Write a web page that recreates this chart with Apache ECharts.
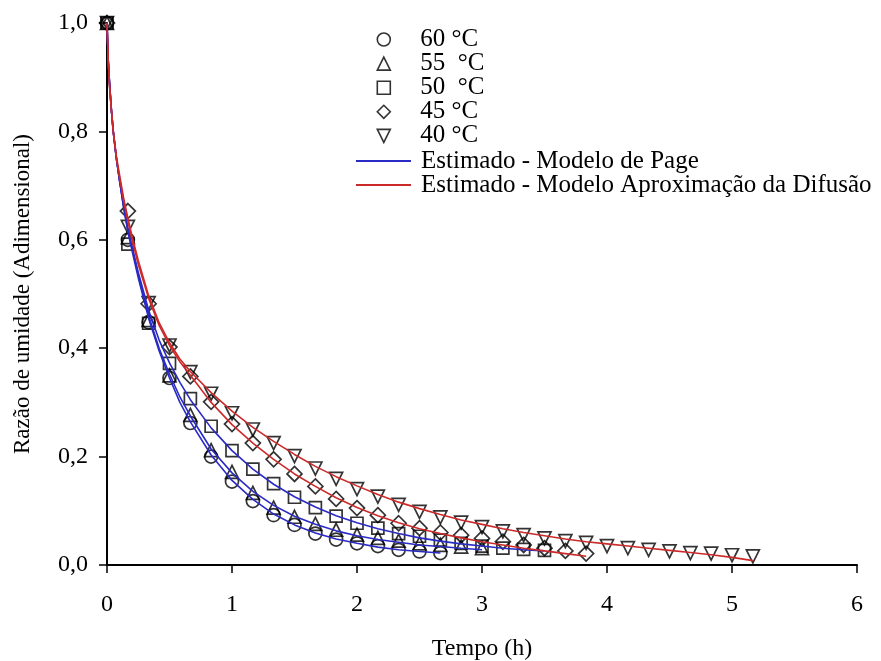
<!DOCTYPE html>
<html>
<head>
<meta charset="utf-8">
<script src="https://cdn.jsdelivr.net/npm/echarts@6/dist/echarts.min.js"></script>
<style>html,body{margin:0;padding:0;background:#fff}#c{width:881px;height:661px}</style>
</head>
<body>
<div id="c"></div>
<script>
// Observed times (h)
var tObs = [0, 0.167, 0.333, 0.5, 0.667, 0.833, 1.0, 1.167, 1.333, 1.5, 1.667, 1.833, 2.0, 2.167, 2.333, 2.5, 2.667, 2.833, 3.0, 3.167, 3.333, 3.5, 3.667, 3.833, 4.0, 4.167, 4.333, 4.5, 4.667, 4.833, 5.0, 5.167];
// Observed moisture ratio
var obs60 = [1.0, 0.600, 0.448, 0.345, 0.262, 0.200, 0.154, 0.118, 0.092, 0.074, 0.058, 0.047, 0.040, 0.035, 0.028, 0.025, 0.022];
var obs55 = [1.0, 0.605, 0.452, 0.350, 0.277, 0.212, 0.172, 0.133, 0.106, 0.089, 0.076, 0.065, 0.056, 0.050, 0.045, 0.040, 0.037, 0.034, 0.031];
var obs50 = [1.0, 0.592, 0.446, 0.372, 0.307, 0.256, 0.211, 0.177, 0.150, 0.125, 0.106, 0.090, 0.077, 0.068, 0.058, 0.053, 0.046, 0.040, 0.035, 0.031, 0.029, 0.027];
var obs45 = [1.0, 0.653, 0.482, 0.402, 0.348, 0.301, 0.260, 0.225, 0.195, 0.168, 0.145, 0.122, 0.105, 0.092, 0.077, 0.068, 0.060, 0.055, 0.049, 0.043, 0.037, 0.031, 0.026, 0.021];
var obs40 = [1.0, 0.624, 0.483, 0.405, 0.356, 0.316, 0.280, 0.250, 0.225, 0.201, 0.178, 0.159, 0.140, 0.126, 0.111, 0.098, 0.088, 0.078, 0.070, 0.062, 0.055, 0.049, 0.044, 0.041, 0.035, 0.031, 0.028, 0.025, 0.022, 0.021, 0.018, 0.016];

// Fitted curves, values (dense near t = 0, then every 10 min)
var tFitEarly = [0, 0.01, 0.02, 0.035, 0.05, 0.075, 0.1, 0.133, 0.167, 0.2, 0.25, 0.333, 0.417, 0.5, 0.583, 0.667];
var tFitLate  = [0.833, 1.0, 1.167, 1.333, 1.5, 1.667, 1.833, 2.0, 2.167, 2.333, 2.5, 2.667, 2.833, 3.0, 3.167, 3.333, 3.5, 3.667, 3.833, 4.0, 4.167, 4.333, 4.5, 4.667, 4.833, 5.0, 5.167];
var fitPage60 = [1, 0.93, 0.89, 0.84, 0.80, 0.75, 0.71, 0.66, 0.615, 0.58, 0.53, 0.455, 0.395, 0.345, 0.30, 0.264,
                 0.203, 0.156, 0.121, 0.094, 0.074, 0.059, 0.048, 0.040, 0.033, 0.028, 0.025, 0.022];
var fitPage55 = [1, 0.93, 0.89, 0.84, 0.80, 0.75, 0.71, 0.66, 0.618, 0.585, 0.535, 0.46, 0.40, 0.352, 0.31, 0.275,
                 0.214, 0.170, 0.136, 0.110, 0.090, 0.075, 0.063, 0.054, 0.047, 0.042, 0.037, 0.034, 0.031, 0.028];
var fitPage50 = [1, 0.93, 0.89, 0.84, 0.80, 0.75, 0.71, 0.665, 0.622, 0.588, 0.54, 0.47, 0.415, 0.373, 0.337, 0.305,
                 0.253, 0.211, 0.177, 0.149, 0.126, 0.107, 0.091, 0.078, 0.067, 0.058, 0.050, 0.044, 0.039, 0.035, 0.031, 0.028, 0.026];
var fitDif45  = [1, 0.93, 0.885, 0.84, 0.80, 0.75, 0.715, 0.672, 0.635, 0.60, 0.555, 0.492, 0.442, 0.405, 0.375, 0.35,
                 0.30, 0.259, 0.225, 0.195, 0.168, 0.145, 0.124, 0.106, 0.091, 0.078, 0.067, 0.058, 0.050, 0.043, 0.037, 0.031, 0.026, 0.021, 0.016];
var fitDif40  = [1, 0.93, 0.885, 0.84, 0.80, 0.755, 0.72, 0.677, 0.64, 0.607, 0.562, 0.497, 0.447, 0.41, 0.38, 0.357,
                 0.318, 0.284, 0.254, 0.228, 0.204, 0.182, 0.163, 0.146, 0.130, 0.116, 0.104, 0.093, 0.083, 0.075, 0.067, 0.060, 0.054, 0.048, 0.043, 0.039, 0.035, 0.031, 0.027, 0.023, 0.019, 0.014, 0.008];

var xTicks = [0, 1, 2, 3, 4, 5, 6];
var yTicks = [0, 0.2, 0.4, 0.6, 0.8, 1.0];

var names = ['60 °C', '55  °C', '50  °C', '45 °C', '40 °C', 'Estimado - Modelo de Page', 'Estimado - Modelo Aproximação da Difusão'];
var markerIcons = ['circle', 'triangle', 'rect', 'diamond', 'path://M0,0L10,0L5,10Z'];

var tFit = tFitEarly.concat(tFitLate);
function pairs(t, v) { var out = []; for (var i = 0; i < v.length; i++) out.push([t[i], v[i]]); return out; }

var FONT = '"Liberation Serif", "Times New Roman", serif';
var BLUE = '#2a2ac4';
var RED = '#cc2a2a';

function scatter(name, vals, symbol, size, rot) {
  return {
    name: name, type: 'scatter', data: pairs(tObs, vals),
    symbol: symbol, symbolSize: size, symbolRotate: rot || 0,
    itemStyle: { color: 'rgba(255,255,255,0)', borderColor: '#000', borderWidth: 1.7 },
    z: 2
  };
}
function fitLine(name, v, color) {
  return {
    name: name, type: 'line', data: pairs(tFit, v), showSymbol: false, symbol: 'none',
    smooth: false,
    lineStyle: { color: color, width: 1.6 }, itemStyle: { color: color }, z: 3
  };
}

var legendText = { fontFamily: FONT, fontSize: 25, color: '#000', lineHeight: 23 };
var chart = echarts.init(document.getElementById('c'), null, { renderer: 'canvas' });
chart.setOption({
  animation: false,
  backgroundColor: '#fff',
  grid: { left: 107, right: 24, top: 23, bottom: 96, containLabel: false, outerBoundsMode: 'none' },
  legend: [{
    orient: 'vertical', left: 371.5, top: 22,
    itemWidth: 13, itemHeight: 13, itemGap: -0.9,
    data: names.slice(0, 5).map(function (n, i) {
      return { name: n, icon: markerIcons[i],
        itemStyle: { color: 'rgba(255,255,255,0)', borderColor: '#000', borderWidth: 1.6 } };
    }),
    selectedMode: false,
    textStyle: Object.assign({ padding: [0, 0, 0, 25] }, legendText)
  }, {
    orient: 'vertical', left: 350, top: 22 + 5 * 24.3,
    itemWidth: 55, itemHeight: 13, itemGap: -0.9,
    data: names.slice(5).map(function (n) { return { name: n, itemStyle: { opacity: 0 } }; }),
    selectedMode: false,
    textStyle: Object.assign({ padding: [0, 0, 0, 5] }, legendText)
  }],
  xAxis: {
    type: 'value', min: xTicks[0], max: xTicks[xTicks.length - 1], interval: 1,
    name: 'Tempo (h)', nameLocation: 'middle', nameGap: 72,
    nameTextStyle: { fontFamily: FONT, fontSize: 24, color: '#000' },
    axisLine: { show: true, onZero: false, lineStyle: { color: '#000', width: 2 } },
    axisTick: { show: true, inside: false, length: 8, lineStyle: { color: '#000', width: 1.5 } },
    axisLabel: { fontFamily: FONT, fontSize: 24, color: '#000', margin: 28 },
    splitLine: { show: false }
  },
  yAxis: {
    type: 'value', min: yTicks[0], max: yTicks[yTicks.length - 1], interval: 0.2,
    name: 'Razão de umidade (Adimensional)', nameLocation: 'middle', nameGap: 73, nameRotate: 90,
    nameTextStyle: { fontFamily: FONT, fontSize: 23, color: '#000' },
    axisLine: { show: true, onZero: false, lineStyle: { color: '#000', width: 2 } },
    axisTick: { show: true, inside: false, length: 8, lineStyle: { color: '#000', width: 1.5 } },
    axisLabel: { fontFamily: FONT, fontSize: 24, color: '#000', margin: 19,
      formatter: function (v) { return v.toFixed(1).replace('.', ','); } },
    splitLine: { show: false }
  },
  series: [
    scatter(names[0], obs60, 'circle', 13),
    scatter(names[1], obs55, 'triangle', 13),
    scatter(names[2], obs50, 'rect', 12),
    scatter(names[3], obs45, 'diamond', 15),
    scatter(names[4], obs40, 'triangle', 13, 180),
    fitLine(names[5], fitPage60, BLUE),
    fitLine(names[5], fitPage55, BLUE),
    fitLine(names[5], fitPage50, BLUE),
    fitLine(names[6], fitDif45, RED),
    fitLine(names[6], fitDif40, RED)
  ]
});
</script>
</body>
</html>
